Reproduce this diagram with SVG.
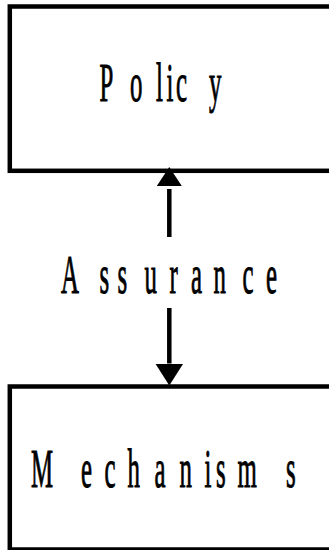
<svg xmlns="http://www.w3.org/2000/svg" width="329" height="550" viewBox="0 0 329 550">
<style>
.box{fill:#fff;stroke:#000;stroke-width:4.5}
.lbl{font-family:"Liberation Serif","Times New Roman",serif;font-size:54px;fill:#000;stroke:#000;stroke-width:1}
.conn{stroke:#000;stroke-width:4.5;fill:none}
</style>
<defs>
<marker id="headGap" markerUnits="userSpaceOnUse" markerWidth="24" markerHeight="26" refX="-3" refY="12.5" orient="auto" viewBox="-3 0 24 25">
<path d="M0,0 L19,12.5 L0,25 z" fill="#000"/>
</marker>
<marker id="head" markerUnits="userSpaceOnUse" markerWidth="22" markerHeight="28" refX="0" refY="14" orient="auto" viewBox="0 0 22 28">
<path d="M0,0 L22,14 L0,28 z" fill="#000"/>
</marker>
</defs>
<rect width="329" height="550" fill="#fff"/>
<g id="policy">
<rect class="box" x="9.8" y="6.5" width="330" height="164.3"/>
<text class="lbl" transform="scale(0.46,1)" y="101.5" x="216.3 260.9 282.6 310.9 339.1 362 382.6 423.9 454.3">P o lic y</text>
</g>
<g id="mechanisms">
<rect class="box" x="9.8" y="386.5" width="330" height="163"/>
<text class="lbl" transform="scale(0.46,1)" y="487" x="67.4 130.4 176.1 206.5 227.2 256.5 277.2 315.2 335.9 369.6 390.2 423.9 444.6 469.6 500 516.3 587 621.7">M e c h a n is m s</text>
</g>
<g id="assurance">
<text class="lbl" transform="scale(0.46,1)" y="293" x="132.6 173.9 216.3 239.1 255.4 287 314.1 343.5 368.5 395.7 415.2 443.5 464.1 500 527.2 556.5 578.3">A s s u r a n c e</text>
</g>
<g id="connectors">
<line class="conn" x1="169.3" y1="237" x2="169.3" y2="189" marker-end="url(#headGap)"/>
<line class="conn" x1="169.3" y1="308" x2="169.3" y2="363.5" marker-end="url(#head)"/>
</g>
</svg>
